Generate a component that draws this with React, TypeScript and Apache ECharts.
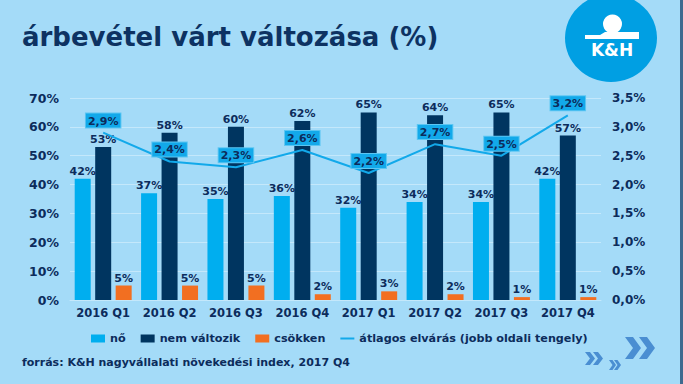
import React, { useEffect, useRef } from "react";
import * as echarts from "echarts";

const categories = ["2016 Q1", "2016 Q2", "2016 Q3", "2016 Q4", "2017 Q1", "2017 Q2", "2017 Q3", "2017 Q4"];
const noValues = [42, 37, 35, 36, 32, 34, 34, 42];
const nemValtozikValues = [53, 58, 60, 62, 65, 64, 65, 57];
const csokkenValues = [5, 5, 5, 2, 3, 2, 1, 1];
const atlagosValues = [2.9, 2.4, 2.3, 2.6, 2.2, 2.7, 2.5, 3.2];

const TEXT = "#0c2c5c";
const FONT = "DejaVu Sans";

function chevron(x: number, y: number, w: number, h: number, t: number): number[][] {
  return [
    [x, y],
    [x + t, y],
    [x + w, y + h / 2],
    [x + t, y + h],
    [x, y + h],
    [x + w - t, y + h / 2],
  ];
}

export default function App() {
  const ref = useRef<HTMLDivElement>(null);
  useEffect(() => {
    if (!ref.current) return;
    const chart = echarts.init(ref.current, null, { renderer: "svg" });
    const chevColor = "#4a8ed2";
    const barLabel = { show: true, position: "top", distance: 2, color: TEXT, fontSize: 11, fontWeight: "bold", formatter: "{c}%", fontFamily: FONT };
    const option: any = {
      animation: false,
      backgroundColor: "#a4dbf8",
      textStyle: { fontFamily: FONT },
      grid: { left: 70, right: 82, top: 98, bottom: 84, containLabel: false },
      legend: {
        left: 86,
        top: 328,
        itemWidth: 14,
        itemHeight: 8,
        itemGap: 15,
        textStyle: { color: TEXT, fontSize: 11.2, fontWeight: "bold", fontFamily: FONT },
        data: [
          { name: "nő", icon: "rect" },
          { name: "nem változik", icon: "rect" },
          { name: "csökken", icon: "rect" },
          { name: "átlagos elvárás (jobb oldali tengely)", icon: "path://M0,0 H14 V2 H0 Z" },
        ],
      },
      xAxis: {
        type: "category",
        data: categories,
        axisLine: { show: true, lineStyle: { color: "#c4e8fb", width: 1 } },
        axisTick: { show: false },
        axisLabel: { interval: 0, color: TEXT, fontSize: 11.5, fontWeight: "bold", margin: 7, fontFamily: FONT },
      },
      yAxis: [
        {
          type: "value",
          min: 0,
          max: 70,
          interval: 10,
          axisLine: { show: false },
          axisTick: { show: false },
          splitLine: { lineStyle: { color: "#c4e8fb", width: 1 } },
          axisLabel: { color: TEXT, fontSize: 12.5, fontWeight: "bold", margin: 11, formatter: "{value}%", fontFamily: FONT },
        },
        {
          type: "value",
          min: 0,
          max: 3.5,
          interval: 0.5,
          axisLine: { show: false },
          axisTick: { show: false },
          splitLine: { show: false },
          axisLabel: {
            color: TEXT,
            fontSize: 12,
            fontWeight: "bold",
            margin: 11,
            fontFamily: FONT,
            formatter: (v: number) => v.toFixed(1).replace(".", ",") + "%",
          },
        },
      ],
      series: [
        { name: "nő", type: "bar", data: noValues, barWidth: 16, itemStyle: { color: "#00aeef" }, label: barLabel },
        { name: "nem változik", type: "bar", data: nemValtozikValues, barWidth: 16, itemStyle: { color: "#003560" }, label: barLabel },
        { name: "csökken", type: "bar", data: csokkenValues, barWidth: 16, barGap: "28%", itemStyle: { color: "#f26f21" }, label: barLabel },
        {
          name: "átlagos elvárás (jobb oldali tengely)",
          type: "line",
          yAxisIndex: 1,
          data: atlagosValues,
          symbol: "circle",
          symbolSize: 0.1,
          showSymbol: true,
          z: 5,
          itemStyle: { color: "#12a9ea" },
          lineStyle: { color: "#12a9ea", width: 2 },
          label: {
            show: true,
            position: "top",
            distance: 5,
            color: TEXT,
            fontSize: 11,
            fontWeight: "bold",
            fontFamily: FONT,
            backgroundColor: "#12a9ea",
            borderColor: "#5cc6f2",
            borderWidth: 1,
            padding: [2, 2, 1, 2],
            formatter: (p: any) => p.value.toFixed(1).replace(".", ",") + "%",
          },
        },
      ],
      graphic: [
        {
          type: "text",
          left: 22,
          top: 24,
          style: { text: "árbevétel várt változása (%)", fill: "#0d3262", font: "bold 26px 'DejaVu Sans'" },
        },
        {
          type: "text",
          left: 22,
          top: 357,
          style: { text: "forrás: K&H nagyvállalati növekedési index, 2017 Q4", fill: TEXT, font: "bold 11px 'DejaVu Sans'" },
        },
        { type: "ellipse", shape: { cx: 611, cy: 38, rx: 46, ry: 44 }, style: { fill: "#009fe3" } },
        { type: "circle", shape: { cx: 612.5, cy: 24, r: 9.5 }, style: { fill: "#ffffff" } },
        {
          type: "polygon",
          shape: { points: [[585, 35], [600, 35], [605, 32], [639, 32], [639, 39], [585, 39]] },
          style: { fill: "#ffffff" },
        },
        {
          type: "text",
          x: 612,
          y: 50,
          style: { text: "K&H", fill: "#ffffff", font: "bold 17px 'DejaVu Sans'", align: "center", verticalAlign: "middle" },
        },
        { type: "rect", shape: { x: 680, y: 0, width: 3, height: 384 }, style: { fill: "#3e6a8f" } },
        { type: "polygon", shape: { points: chevron(625, 337, 16, 22, 8) }, style: { fill: chevColor } },
        { type: "polygon", shape: { points: chevron(639, 337, 16, 22, 8) }, style: { fill: chevColor } },
        { type: "polygon", shape: { points: chevron(585, 352, 10, 13, 5) }, style: { fill: chevColor } },
        { type: "polygon", shape: { points: chevron(593, 352, 10, 13, 5) }, style: { fill: chevColor } },
        { type: "polygon", shape: { points: chevron(609, 360, 7, 10, 3.5) }, style: { fill: chevColor } },
        { type: "polygon", shape: { points: chevron(614, 360, 7, 10, 3.5) }, style: { fill: chevColor } },
      ],
    };
    chart.setOption(option);
    return () => chart.dispose();
  }, []);
  return <div ref={ref} style={{ position: "fixed", left: 0, top: 0, width: 683, height: 384 }} />;
}
